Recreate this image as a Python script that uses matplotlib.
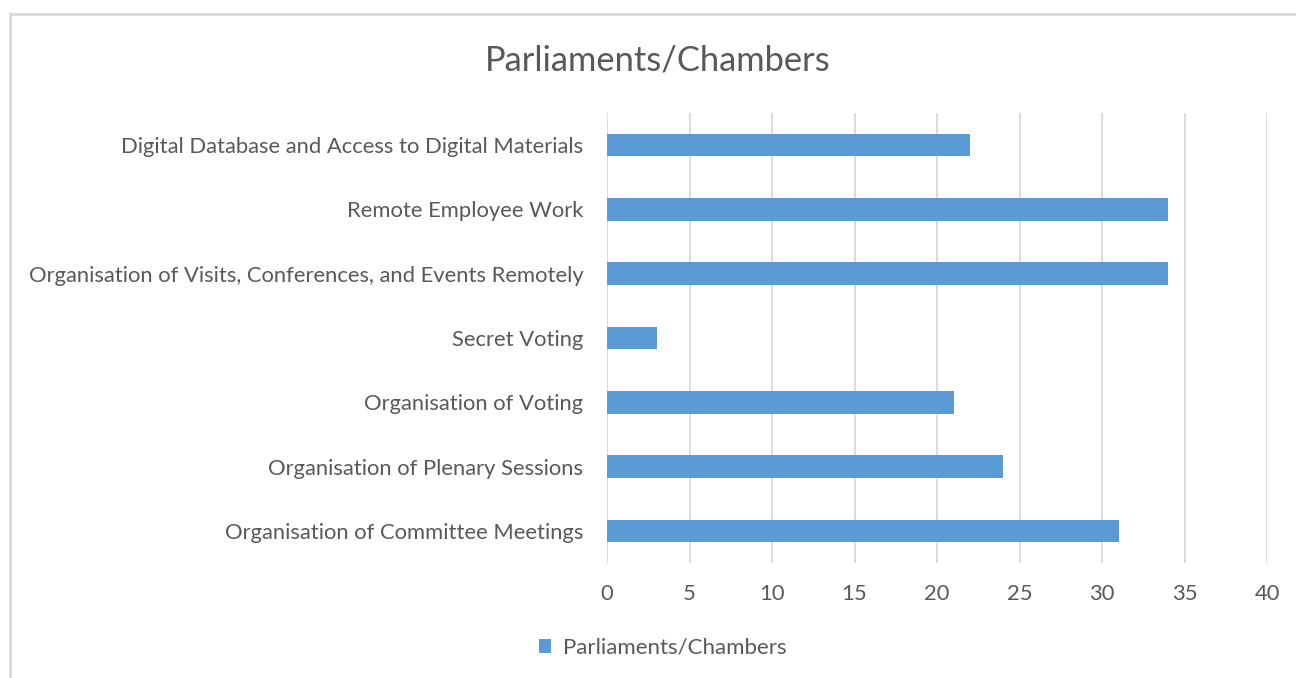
import matplotlib.pyplot as plt
from matplotlib.patches import Rectangle

# categories listed bottom to top
categories = [
    'Organisation of Committee Meetings',
    'Organisation of Plenary Sessions',
    'Organisation of Voting',
    'Secret Voting',
    'Organisation of Visits, Conferences, and Events Remotely',
    'Remote Employee Work',
    'Digital Database and Access to Digital Materials',
]
counts = [31, 24, 21, 3, 34, 34, 22]
series_name = 'Parliaments/Chambers'
xticks = [0, 5, 10, 15, 20, 25, 30, 35, 40]

text_col = '#595959'
bar_col = '#5B9BD5'
grid_col = '#D9D9D9'

plt.rcParams['font.family'] = ['Lato', 'DejaVu Sans']

fig = plt.figure(figsize=(12.96, 6.78), dpi=100)
W, H = 1296, 678

# light frame around the chart area
fig.patches.append(Rectangle((10 / W, -0.1), 1.2, (678 - 14) / H + 0.1,
                             transform=fig.transFigure, fill=False,
                             edgecolor='#D9D9D9', linewidth=2))

ax = fig.add_axes([607 / W, (678 - 563) / H, (1267 - 607) / W, (563 - 113) / H])
ax.barh(range(len(categories)), counts, height=0.35, color=bar_col,
        label=series_name, zorder=3)

ax.set_xlim(0, 40)
ax.set_ylim(-0.5, len(categories) - 0.5)
ax.set_xticks(xticks)
ax.set_yticks(range(len(categories)))
ax.set_yticklabels(categories)
ax.tick_params(axis='both', length=0, labelsize=15.8, colors=text_col)
ax.tick_params(axis='x', pad=15)
ax.tick_params(axis='y', pad=17)
ax.grid(axis='x', color=grid_col, linewidth=1.3, zorder=0)
for s in ax.spines.values():
    s.set_visible(False)

fig.text(658 / W, 1 - 61 / H, series_name, ha='center', va='center',
         fontsize=24.8, color=text_col)

ax.legend(loc='center', bbox_to_anchor=(663 / W, 1 - 648 / H),
          bbox_transform=fig.transFigure, frameon=False, fontsize=16,
          labelcolor=text_col, handlelength=0.55, handleheight=0.55,
          handletextpad=0.55)

fig.savefig('out.png', dpi=100)
